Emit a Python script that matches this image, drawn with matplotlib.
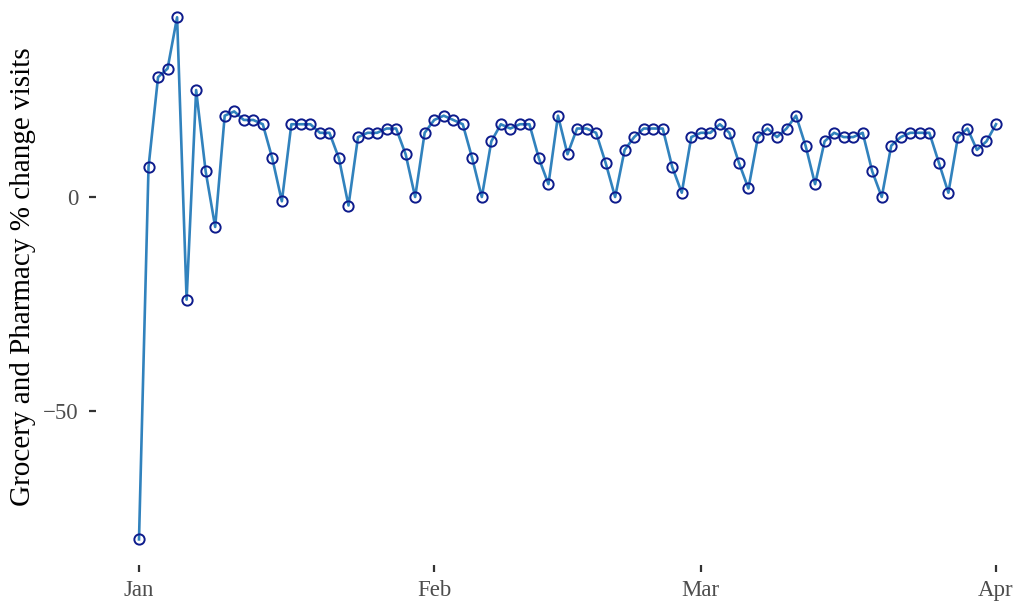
import numpy as np
import pandas as pd
import matplotlib
matplotlib.use("Agg")
import matplotlib.pyplot as plt
import matplotlib.dates as mdates

# daily values, Jan 1 -> Apr 1
dates = pd.date_range("2021-01-01", "2021-04-01", freq="D")
change = [-80, 7, 28, 30, 42, -24, 25, 6, -7, 19,
          20, 18, 18, 17, 9, -1, 17, 17, 17, 15,
          15, 9, -2, 14, 15, 15, 16, 16, 10, 0,
          15, 18, 19, 18, 17, 9, 0, 13, 17, 16,
          17, 17, 9, 3, 19, 10, 16, 16, 15, 8,
          0, 11, 14, 16, 16, 16, 7, 1, 14, 15,
          15, 17, 15, 8, 2, 14, 16, 14, 16, 19,
          12, 3, 13, 15, 14, 14, 15, 6, 0, 12,
          14, 15, 15, 15, 8, 1, 14, 16, 11, 13,
          17]
ytick_vals = [0, -50]
xtick_dates = ["2021-01-01", "2021-02-01", "2021-03-01", "2021-04-01"]
xtick_labels = ["Jan", "Feb", "Mar", "Apr"]

plt.rcParams['font.family'] = ['Liberation Serif', 'DejaVu Serif']

W, H = 1017, 601
fig = plt.figure(figsize=(W / 100, H / 100), dpi=100)
# axes placed in pixel terms
left, right, top, bottom = 96, 1017, 5, 565
ax = fig.add_axes([left / W, 1 - bottom / H, (right - left) / W, (bottom - top) / H])

ax.plot(dates, change, color="#3182bd", lw=1.9, zorder=2)
ax.plot(dates, change, ls="none", marker="o", ms=7.4, mfc="none",
        mec="#0d1b8c", mew=1.4, zorder=3)

# pixel mapping: Jan 1 at x=139, Apr 1 at x=996 ; 0 at y=197, -50 at y=411
pxday = (996 - 139) / 90.0
d0 = mdates.date2num(pd.Timestamp("2021-01-01"))
ax.set_xlim(d0 + (left - 139) / pxday, d0 + (right - 139) / pxday)
pxunit = (411 - 197) / 50.0
ax.set_ylim(-(bottom - 197) / pxunit, (197 - top) / pxunit)

ax.set_xticks([mdates.date2num(pd.Timestamp(d)) for d in xtick_dates])
ax.set_xticklabels(xtick_labels)
ax.set_yticks(ytick_vals)
ax.set_yticklabels([str(v).replace("-", "\u2212") for v in ytick_vals])

for s in ax.spines.values():
    s.set_visible(False)
ax.tick_params(axis="both", length=4.8, width=1.6, color="#333333",
               labelcolor="#4d4d4d", labelsize=16.5)
ax.tick_params(axis="x", pad=6)
ax.tick_params(axis="y", pad=8)
ax.set_ylabel("Grocery and Pharmacy % change visits", fontsize=21,
              color="black", labelpad=5)
ax.yaxis.label.set_y(0.514)

fig.savefig("out.png", dpi=100)
